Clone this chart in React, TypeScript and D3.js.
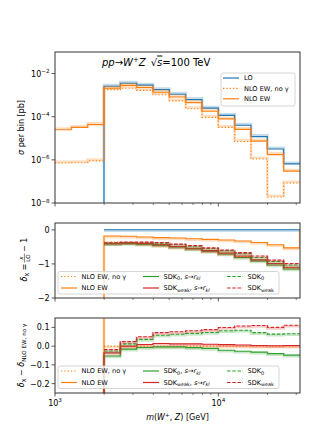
import React from "react";
import * as d3 from "d3";

const width = 316;
const height = 442;
const left = 55;
const right = 300;
const p1 = { top: 52, bottom: 203 };
const p2 = { top: 223, bottom: 298 };
const p3 = { top: 318, bottom: 393 };

const font = "DejaVu Sans";
const C = { lo: "#1f77b4", nlo: "#ff7f0e", sdk0: "#2ca02c", weak: "#d62728" };

// bin edges in m(W+,Z) [GeV]
const binEdges = [1000, 1259, 1585, 1995, 2512, 3162, 3981, 5012, 6310, 7943, 10000, 12589, 15849, 19953, 25119, 31623];

// panel 1: sigma per bin [pb]
const loXsec = [null, null, null, 2.6e-3, 3.55e-3, 2.9e-3, 1.8e-3, 1.1e-3, 6.2e-4, 2.5e-4, 1.15e-4, 4.0e-5, 1.2e-5, 3.2e-6, 6.5e-7];
const nloNoGammaXsec = [7.1e-7, 7.3e-7, 9.0e-7, 1.8e-3, 2.1e-3, 1.67e-3, 1.05e-3, 5.4e-4, 2.35e-4, 9.3e-5, 3.2e-5, 7.1e-6, 1.1e-6, 1.9e-8, 8.4e-8];
const nloXsec = [2.5e-5, 3.2e-5, 4.3e-5, 2.1e-3, 2.85e-3, 2.26e-3, 1.37e-3, 8.2e-4, 4.5e-4, 1.8e-4, 7.9e-5, 2.6e-5, 7.4e-6, 1.75e-6, 3.0e-7];

// panel 2: delta_X = X/LO - 1
const loDelta = [null, null, null, 0, 0, 0, 0, 0, 0, 0, 0, 0, 0, 0, 0];
const nloNoGammaDelta = [null, null, null, -0.36, -0.38, -0.41, -0.45, -0.5, -0.55, -0.62, -0.69, -0.78, -0.88, -0.99, -1.1];
const nloDelta = [null, null, null, -0.18, -0.19, -0.21, -0.23, -0.24, -0.26, -0.28, -0.3, -0.33, -0.37, -0.44, -0.53];
const sdk0RklDelta = [null, null, null, -0.41, -0.4, -0.42, -0.45, -0.5, -0.56, -0.63, -0.71, -0.81, -0.91, -1.03, -1.15];
const weakRklDelta = [null, null, null, -0.4, -0.38, -0.4, -0.44, -0.49, -0.54, -0.61, -0.68, -0.77, -0.88, -0.99, -1.1];
const sdk0Delta = [null, null, null, -0.39, -0.37, -0.37, -0.39, -0.43, -0.48, -0.55, -0.61, -0.69, -0.81, -0.93, -1.03];
const weakDelta = [null, null, null, -0.38, -0.36, -0.36, -0.37, -0.42, -0.46, -0.53, -0.59, -0.67, -0.77, -0.89, -0.99];

// panel 3: delta_X - delta_(NLO EW, no gamma)
const noGammaDiff = [null, null, null, 0, 0, 0, 0, 0, 0, 0, 0, 0, 0, 0, 0];
const nloDiff = [null, null, null, 0.18, 0.19, 0.2, 0.22, 0.26, 0.29, 0.34, 0.39, 0.45, 0.51, 0.55, 0.57];
const sdk0RklDiff = [null, null, null, -0.053, -0.016, -0.007, -0.004, -0.004, -0.008, -0.012, -0.022, -0.027, -0.032, -0.04, -0.048];
const weakRklDiff = [null, null, null, -0.036, 0.0, 0.009, 0.014, 0.012, 0.012, 0.01, 0.008, 0.006, 0.003, 0.002, 0.003];
const sdk0Diff = [null, null, null, -0.026, 0.012, 0.036, 0.058, 0.063, 0.068, 0.073, 0.082, 0.085, 0.072, 0.064, 0.066];
const weakDiff = [null, null, null, -0.018, 0.024, 0.05, 0.072, 0.077, 0.082, 0.088, 0.099, 0.107, 0.11, 0.1, 0.111];

const y1Ticks = [1e-8, 1e-6, 1e-4, 1e-2];
const y2Ticks = [-2, -1, 0];
const y2Labels = ["\u22122", "\u22121", "0"];
const y3Ticks = [-0.2, -0.1, 0.0, 0.1];
const y3Labels = ["\u22120.2", "\u22120.1", "0.0", "0.1"];
const xMajor = [1000, 10000];
const xMinor = [2000, 3000, 4000, 5000, 6000, 7000, 8000, 9000, 20000, 30000];

const x = d3.scaleLog().domain([1000, 31623]).range([left, right]);
const y1 = d3.scaleLog().domain([1e-8, 1e-1]).range([p1.bottom, p1.top]);
const y2 = d3.scaleLinear().domain([-2, 0.2]).range([p2.bottom, p2.top]);
const y3 = d3.scaleLinear().domain([-0.25, 0.15]).range([p3.bottom, p3.top]);

type Pt = [number, number];

// split a binned series into step segments; `from`/`to` add a riser at the ends
function stepSegments(vals: (number | null)[], from?: number, to?: number) {
  const segs: Pt[][] = [];
  let cur: Pt[] | null = null;
  vals.forEach((v, i) => {
    if (v == null) {
      if (cur) {
        cur.push([binEdges[i], cur[cur.length - 1][1]]);
        segs.push(cur);
        cur = null;
      }
      return;
    }
    if (!cur) cur = [];
    cur.push([binEdges[i], v]);
  });
  if (cur) {
    const c = cur as Pt[];
    c.push([binEdges[vals.length], c[c.length - 1][1]]);
    segs.push(c);
  }
  if (from != null && segs.length) segs[0].unshift([segs[0][0][0], from]);
  if (to != null && segs.length) {
    const last = segs[segs.length - 1];
    last.push([last[last.length - 1][0], to]);
  }
  return segs;
}

type Series = {
  vals: (number | null)[];
  color: string;
  dash?: string;
  from?: number;
  to?: number;
};

const DOT = "1.3 2";
const DASH = "3.6 1.6";

function Steps({ series, y, band }: { series: Series[]; y: any; band: number }) {
  const line = d3
    .line<Pt>()
    .x(d => x(d[0]))
    .y(d => y(d[1]))
    .curve(d3.curveStepAfter);
  return (
    <g>
      {series.map((s, i) => {
        const segs = stepSegments(s.vals, s.from, s.to);
        return (
          <g key={i}>
            {segs.map((seg, j) => (
              <path
                key={"b" + j}
                d={line(seg) || ""}
                fill="none"
                stroke={s.color}
                strokeOpacity={0.25}
                strokeWidth={2.6}
                transform={`translate(0,${band})`}
              />
            ))}
            {segs.map((seg, j) => (
              <path
                key={"l" + j}
                d={line(seg) || ""}
                fill="none"
                stroke={s.color}
                strokeWidth={1.1}
                strokeDasharray={s.dash}
              />
            ))}
          </g>
        );
      })}
    </g>
  );
}

function XTicks({ bottom }: { bottom: number }) {
  return (
    <g stroke="#333">
      {xMajor.map(v => (
        <line key={v} x1={x(v)} x2={x(v)} y1={bottom} y2={bottom + 3.5} strokeWidth={0.8} />
      ))}
      {xMinor.map(v => (
        <line key={v} x1={x(v)} x2={x(v)} y1={bottom} y2={bottom + 2} strokeWidth={0.6} />
      ))}
    </g>
  );
}

function Clip({ top, bottom, id }: { top: number; bottom: number; id: string }) {
  return (
    <clipPath id={id}>
      <rect x={left} y={top} width={right - left} height={bottom - top} />
    </clipPath>
  );
}

type LegItem = { color: string; dash?: string; label: React.ReactNode };

const fs = 6.6;
const sub = 4.8;

const sdkLabel = (idx: string, rkl: boolean) => (
  <>
    <tspan>SDK</tspan>
    <tspan dy={1.6} fontSize={idx === "0" ? 5 : sub}>{idx}</tspan>
    {rkl ? (
      <>
        <tspan dy={-1.6}>, </tspan>
        <tspan fontStyle="italic">s</tspan>
        <tspan>{"\u2192"}</tspan>
        <tspan fontStyle="italic">r</tspan>
        <tspan dy={1.6} fontSize={sub} fontStyle="italic">kl</tspan>
      </>
    ) : null}
  </>
);

const lowerLegend: LegItem[][] = [
  [
    { color: C.nlo, dash: DOT, label: <tspan>NLO EW, no {"\u03b3"}</tspan> },
    { color: C.nlo, label: <tspan>NLO EW</tspan> },
  ],
  [
    { color: C.sdk0, label: sdkLabel("0", true) },
    { color: C.weak, label: sdkLabel("weak", true) },
  ],
  [
    { color: C.sdk0, dash: DASH, label: sdkLabel("0", false) },
    { color: C.weak, dash: DASH, label: sdkLabel("weak", false) },
  ],
];
const legendCols = [61, 143, 227];

function LowerLegend({ top }: { top: number }) {
  const rowsY = [top + 5, top + 16.5];
  return (
    <g>
      <rect x={58} y={top} width={221} height={22.5} rx={2} fill="#fff" fillOpacity={0.8} stroke="#ccc" strokeWidth={0.8} />
      {lowerLegend.map((col, ci) =>
        col.map((it, ri) => (
          <g key={ci + "-" + ri}>
            <line
              x1={legendCols[ci]}
              x2={legendCols[ci] + 16}
              y1={rowsY[ri]}
              y2={rowsY[ri]}
              stroke={it.color}
              strokeWidth={1.2}
              strokeDasharray={it.dash}
            />
            <text x={legendCols[ci] + 20.5} y={rowsY[ri] + 2.3} fontSize={fs}>
              {it.label}
            </text>
          </g>
        ))
      )}
    </g>
  );
}

const upperLegend: LegItem[] = [
  { color: C.lo, label: <tspan>LO</tspan> },
  { color: C.nlo, dash: DOT, label: <tspan>NLO EW, no {"\u03b3"}</tspan> },
  { color: C.nlo, label: <tspan>NLO EW</tspan> },
];

export default function App() {
  const panel1: Series[] = [
    { vals: loXsec, color: C.lo, from: 1e-8 },
    { vals: nloNoGammaXsec, color: C.nlo, dash: DOT },
    { vals: nloXsec, color: C.nlo },
  ];
  const panel2: Series[] = [
    { vals: loDelta, color: C.lo },
    { vals: nloNoGammaDelta, color: C.nlo, dash: DOT },
    { vals: nloDelta, color: C.nlo, from: -2.5, to: 0 },
    { vals: sdk0RklDelta, color: C.sdk0 },
    { vals: weakRklDelta, color: C.weak },
    { vals: sdk0Delta, color: C.sdk0, dash: DASH },
    { vals: weakDelta, color: C.weak, dash: DASH },
  ];
  const panel3: Series[] = [
    { vals: noGammaDiff, color: C.nlo, dash: DOT },
    { vals: nloDiff, color: C.nlo, from: -0.3 },
    { vals: sdk0RklDiff, color: C.sdk0, from: -0.3 },
    { vals: weakRklDiff, color: C.weak, from: -0.3 },
    { vals: sdk0Diff, color: C.sdk0, dash: DASH },
    { vals: weakDiff, color: C.weak, dash: DASH },
  ];

  return (
    <svg
      width={width}
      height={height}
      style={{ position: "absolute", left: 0, top: 0, background: "#fff" }}
      fontFamily={font}
    >
      <defs>
        <Clip top={p1.top} bottom={p1.bottom} id="c1" />
        <Clip top={p2.top} bottom={p2.bottom} id="c2" />
        <Clip top={p3.top} bottom={p3.bottom} id="c3" />
      </defs>

      {/* top panel: cross sections */}
      <g clipPath="url(#c1)">
        <Steps series={panel1} y={y1} band={-1.2} />
      </g>
      <text x={102} y={65.5} fontSize={10}>
        <tspan fontStyle="italic">pp</tspan>
        <tspan>{"\u2192"}</tspan>
        <tspan fontStyle="italic">W</tspan>
        <tspan dy={-4} fontSize={7}>+</tspan>
        <tspan dy={4} fontStyle="italic">Z</tspan>
        <tspan>{"\u2002\u221a"}</tspan>
        <tspan fontStyle="italic" style={{ textDecoration: "overline" }}>s</tspan>
        <tspan>=100 TeV</tspan>
      </text>
      <g>
        <rect x={221} y={73} width={74} height={33} rx={2} fill="#fff" fillOpacity={0.8} stroke="#ccc" strokeWidth={0.8} />
        {upperLegend.map((it, i) => (
          <g key={i}>
            <line x1={223} x2={239} y1={78 + i * 10.4} y2={78 + i * 10.4} stroke={it.color} strokeWidth={1.2} strokeDasharray={it.dash} />
            <text x={244} y={80.3 + i * 10.4} fontSize={fs}>
              {it.label}
            </text>
          </g>
        ))}
      </g>
      {y1Ticks.map(v => (
        <g key={v}>
          <line x1={left - 3.5} x2={left} y1={y1(v)} y2={y1(v)} stroke="#333" strokeWidth={0.8} />
          <text x={left - 5.5} y={y1(v) + 3} textAnchor="end" fontSize={8}>
            10
            <tspan dy={-3.5} fontSize={5.6}>{"\u2212" + Math.round(-Math.log10(v))}</tspan>
          </text>
        </g>
      ))}
      <text transform={`translate(24,${(p1.top + p1.bottom) / 2}) rotate(-90)`} textAnchor="middle" fontSize={8}>
        <tspan fontStyle="italic">{"\u03c3"}</tspan> per bin [pb]
      </text>
      <XTicks bottom={p1.bottom} />
      <rect x={left} y={p1.top} width={right - left} height={p1.bottom - p1.top} fill="none" stroke="#333" strokeWidth={1} />

      {/* middle panel: relative corrections */}
      <g clipPath="url(#c2)">
        <Steps series={panel2} y={y2} band={1} />
      </g>
      <LowerLegend top={271.5} />
      {y2Ticks.map((v, i) => (
        <g key={v}>
          <line x1={left - 3.5} x2={left} y1={y2(v)} y2={y2(v)} stroke="#333" strokeWidth={0.8} />
          <text x={left - 5.5} y={y2(v) + 3} textAnchor="end" fontSize={8}>
            {y2Labels[i]}
          </text>
        </g>
      ))}
      <g transform={`translate(27,${(p2.top + p2.bottom) / 2}) rotate(-90)`} fontSize={8}>
        <text x={-21} y={0}>
          <tspan fontStyle="italic">{"\u03b4"}</tspan>
          <tspan dy={1.8} fontSize={5.6}>X</tspan>
          <tspan dy={-1.8}> =</tspan>
        </text>
        <text x={2.5} y={-4.2} fontSize={5.6} textAnchor="middle" fontStyle="italic">x</text>
        <line x1={-2} x2={7} y1={-2.6} y2={-2.6} stroke="#000" strokeWidth={0.5} />
        <text x={2.5} y={2.6} fontSize={5.6} textAnchor="middle">LO</text>
        <text x={8.5} y={0}>{"\u2212 1"}</text>
      </g>
      <XTicks bottom={p2.bottom} />
      <rect x={left} y={p2.top} width={right - left} height={p2.bottom - p2.top} fill="none" stroke="#333" strokeWidth={1} />

      {/* bottom panel: difference to NLO EW, no gamma */}
      <g clipPath="url(#c3)">
        <Steps series={panel3} y={y3} band={1} />
      </g>
      <LowerLegend top={366} />
      {y3Ticks.map((v, i) => (
        <g key={v}>
          <line x1={left - 3.5} x2={left} y1={y3(v)} y2={y3(v)} stroke="#333" strokeWidth={0.8} />
          <text x={left - 5.5} y={y3(v) + 3} textAnchor="end" fontSize={8}>
            {y3Labels[i]}
          </text>
        </g>
      ))}
      <text transform={`translate(24,${(p3.top + p3.bottom) / 2}) rotate(-90)`} textAnchor="middle" fontSize={8}>
        <tspan fontStyle="italic">{"\u03b4"}</tspan>
        <tspan dy={1.8} fontSize={5.6}>X</tspan>
        <tspan dy={-1.8}>{" \u2212 "}</tspan>
        <tspan fontStyle="italic">{"\u03b4"}</tspan>
        <tspan dy={1.8} fontSize={5.6}>{"NLO EW, no \u03b3"}</tspan>
      </text>
      <XTicks bottom={p3.bottom} />
      <rect x={left} y={p3.top} width={right - left} height={p3.bottom - p3.top} fill="none" stroke="#333" strokeWidth={1} />
      {xMajor.map(v => (
        <text key={v} x={x(v)} y={405.5} textAnchor="middle" fontSize={8}>
          10
          <tspan dy={-3.5} fontSize={5.6}>{Math.round(Math.log10(v))}</tspan>
        </text>
      ))}
      <text x={(left + right) / 2} y={420} textAnchor="middle" fontSize={8}>
        <tspan fontStyle="italic">m</tspan>(<tspan fontStyle="italic">W</tspan>
        <tspan dy={-3.2} fontSize={5.6}>+</tspan>
        <tspan dy={3.2}>, </tspan>
        <tspan fontStyle="italic">Z</tspan>) [GeV]
      </text>
    </svg>
  );
}
